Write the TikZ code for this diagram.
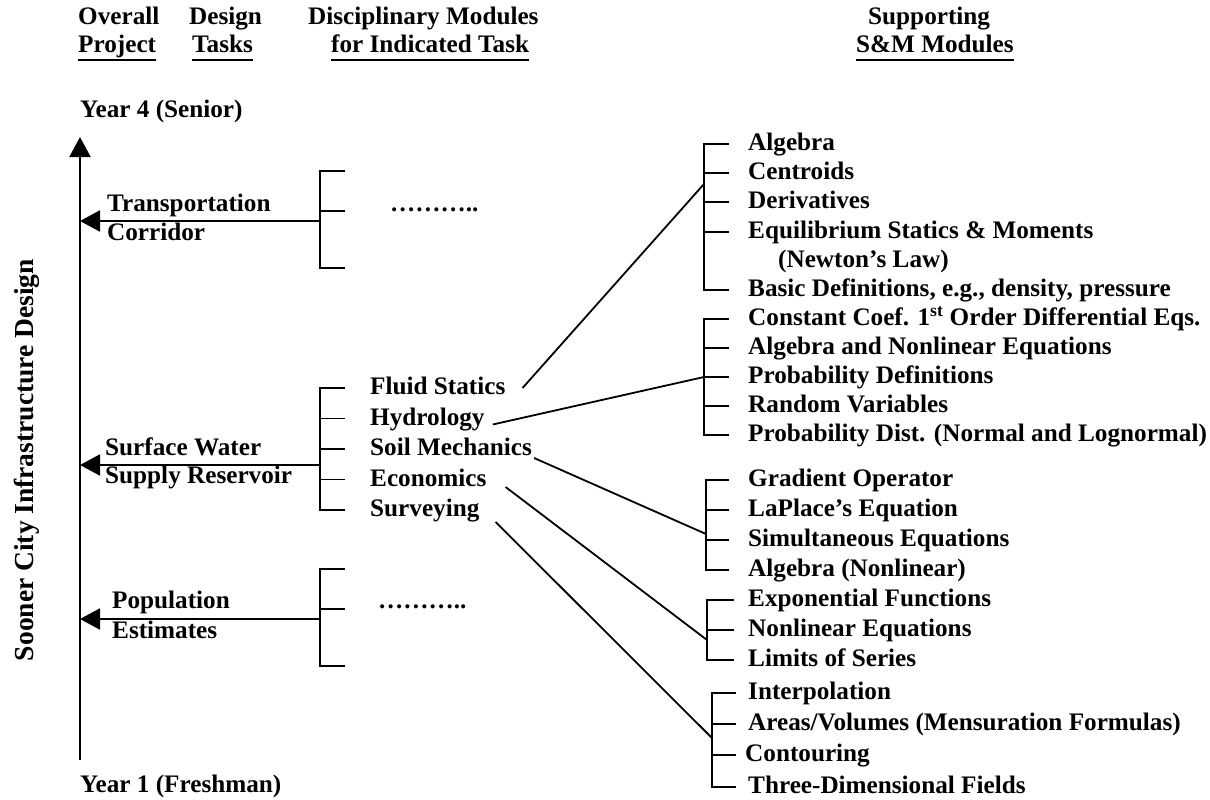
\documentclass[tikz,border=0pt]{standalone}
\usepackage{fontspec}
\setmainfont{Liberation Serif}
\usetikzlibrary{arrows.meta}

\newcommand\headfont{\fontsize{25.2}{30}\selectfont\bfseries}
\newcommand\taskfont{\fontsize{25.2}{30}\selectfont\bfseries}
\newcommand\sidefont{\fontsize{27.5}{32}\selectfont\bfseries}

\tikzset{
  head/.style={font=\headfont, inner sep=0pt, anchor=base west},
  uhead/.style={head, text depth=7pt},
  task/.style={font=\taskfont, inner sep=0pt, anchor=base west},
  module/.style={font=\taskfont, inner sep=0pt, anchor=west, text height=18pt, text depth=5pt},
  brk/.style={line width=1.8pt, line cap=rect},
  tickln/.style={brk, shorten >=#1},
  tickln/.default=20pt,
  link/.style={line width=1.8pt},
  arr/.style={line width=2pt, -{Triangle[length=20pt,width=21pt]}}
}

\begin{document}
\begin{tikzpicture}[x=1pt,y=-1pt]
  \useasboundingbox (0,0) rectangle (1210,800);

  % column heads
  \node[head]  (over) at (78,25)  {Overall};
  \node[uhead] (proj) at (78,53)  {Project};
  \node[head]  (des)  at (189,25) {Design};
  \node[uhead] (tsk)  at (192,53) {Tasks};
  \node[head]  (disc) at (308,25) {Disciplinary Modules};
  \node[uhead] (ind)  at (331,53) {for Indicated Task};
  \node[head]  (supp) at (868,25) {Supporting};
  \node[uhead] (sm)   at (856,53) {S\&M Modules};
  \draw[line width=1.6pt] (proj.south west) -- (proj.south east);
  \draw[line width=1.6pt] (tsk.south west) -- (tsk.south east);
  \draw[line width=1.6pt] (ind.south west) -- (ind.south east);
  \draw[line width=1.6pt] (sm.south west) -- (sm.south east);

  % time axis
  \node[head] (yr4) at (80,117) {Year 4 (Senior)};
  \node[head] (yr1) at (80,792) {Year 1 (Freshman)};
  \node[font=\sidefont, inner sep=0pt, rotate=90, anchor=base] (city) at (33,460) {Sooner City Infrastructure Design};
  \coordinate (ax0) at (80,760);
  \coordinate (ax1) at (80,137);
  \draw[arr] (ax0) -- (ax1);

  % design tasks
  \node[task] (trans) at (107,211) {Transportation};
  \node[task] (corr)  at (107,240) {Corridor};
  \node[task] (surf)  at (105,455) {Surface Water};
  \node[task] (resv)  at (105,483) {Supply Reservoir};
  \node[task] (pop)   at (112,608) {Population};
  \node[task] (est)   at (112,638) {Estimates};

  % transportation corridor
  \coordinate (tc) at (320,221);
  \draw[brk] (344,171) -| (320,268) -- (344,268);
  \draw[brk] (320,211) -- (344,211);
  \node[task] (dots1) at (390,211) {………..};
  \draw[arr] (tc) -- (tc -| ax0);

  % population estimates
  \coordinate (pc) at (320,619);
  \draw[brk] (344,569) -| (320,666) -- (344,666);
  \draw[brk] (320,609) -- (344,609);
  \node[task] (dots2) at (378,608) {………..};
  \draw[arr] (pc) -- (pc -| ax0);

  % surface water supply reservoir
  \node[module] (fs)   at (370,388)   {Fluid Statics};
  \node[module] (hyd)  at (370,418.5) {Hydrology};
  \node[module] (soil) at (370,449)   {Soil Mechanics};
  \node[module] (eco)  at (370,479.5) {Economics};
  \node[module] (sur)  at (370,510)   {Surveying};
  \coordinate (sc) at (320,465);
  \draw[brk] (fs.west -| sc) -- (sur.west -| sc);
  \draw[tickln=26pt] (fs.west -| sc) -- (fs.west);
  \draw[tickln=26pt] (hyd.west -| sc) -- (hyd.west);
  \draw[tickln=26pt] (soil.west -| sc) -- (soil.west);
  \draw[tickln=26pt] (eco.west -| sc) -- (eco.west);
  \draw[tickln=26pt] (sur.west -| sc) -- (sur.west);
  \draw[arr] (sc) -- (sc -| ax0);

  % supporting S&M modules
  \node[module] (alg)    at (748,144) {Algebra};
  \node[module] (cen)    at (748,173) {Centroids};
  \node[module] (der)    at (748,202) {Derivatives};
  \node[module] (equ)    at (748,232) {Equilibrium Statics \& Moments};
  \node[module] (newt)   at (778,261) {(Newton's Law)};
  \node[module] (bas)    at (748,290) {Basic Definitions, e.g., density, pressure};
  \node[module] (coef)   at (748,319) {Constant Coef. 1\textsuperscript{st} Order Differential Eqs.};
  \node[module] (anl)    at (748,348) {Algebra and Nonlinear Equations};
  \node[module] (pdef)   at (748,377) {Probability Definitions};
  \node[module] (rv)     at (748,406) {Random Variables};
  \node[module] (pdist)  at (748,435) {Probability Dist. (Normal and Lognormal)};
  \node[module] (grad)   at (748,480) {Gradient Operator};
  \node[module] (lap)    at (748,510) {LaPlace's Equation};
  \node[module] (sim)    at (748,540) {Simultaneous Equations};
  \node[module] (alnl)   at (748,570) {Algebra (Nonlinear)};
  \node[module] (expf)   at (748,600) {Exponential Functions};
  \node[module] (nleq)   at (748,630) {Nonlinear Equations};
  \node[module] (lim)    at (748,660) {Limits of Series};
  \node[module] (interp) at (748,693) {Interpolation};
  \node[module] (area)   at (748,724) {Areas/Volumes (Mensuration Formulas)};
  \node[module] (cont)   at (745,755) {Contouring};
  \node[module] (three)  at (748,787) {Three-Dimensional Fields};

  \coordinate (g1) at (704,0);
  \coordinate (g2) at (704,0);
  \coordinate (g3) at (706,0);
  \coordinate (g4) at (707,0);
  \coordinate (g5) at (712,0);

  \draw[brk] (alg.west -| g1) -- (bas.west -| g1);
  \draw[tickln] (alg.west -| g1) -- (alg.west);
  \draw[tickln] (cen.west -| g1) -- (cen.west);
  \draw[tickln] (der.west -| g1) -- (der.west);
  \draw[tickln] (equ.west -| g1) -- (equ.west);
  \draw[tickln] (bas.west -| g1) -- (bas.west);

  \draw[brk] (coef.west -| g2) -- (pdist.west -| g2);
  \draw[tickln] (coef.west -| g2) -- (coef.west);
  \draw[tickln] (anl.west -| g2) -- (anl.west);
  \draw[tickln] (pdef.west -| g2) -- (pdef.west);
  \draw[tickln] (rv.west -| g2) -- (rv.west);
  \draw[tickln] (pdist.west -| g2) -- (pdist.west);

  \draw[brk] (grad.west -| g3) -- (alnl.west -| g3);
  \draw[tickln] (grad.west -| g3) -- (grad.west);
  \draw[tickln] (lap.west -| g3) -- (lap.west);
  \draw[tickln] (sim.west -| g3) -- (sim.west);
  \draw[tickln] (alnl.west -| g3) -- (alnl.west);

  \draw[brk] (expf.west -| g4) -- (lim.west -| g4);
  \draw[tickln=15pt] (expf.west -| g4) -- (expf.west);
  \draw[tickln=15pt] (nleq.west -| g4) -- (nleq.west);
  \draw[tickln=15pt] (lim.west -| g4) -- (lim.west);

  \draw[brk] (interp.west -| g5) -- (three.west -| g5);
  \draw[tickln=13pt] (interp.west -| g5) -- (interp.west);
  \draw[tickln=13pt] (area.west -| g5) -- (area.west);
  \draw[tickln=10pt] (cont.west -| g5) -- (cont.west);
  \draw[tickln=13pt] (three.west -| g5) -- (three.west);

  % links to the S&M modules
  \coordinate (c1) at (704,184);
  \coordinate (c2) at (704,377);
  \coordinate (c3) at (706,534);
  \coordinate (c4) at (707,640);
  \coordinate (c5) at (712,738);
  \draw[link] ([xshift=17pt]fs.east) -- (c1);
  \draw[link] ([xshift=8pt,yshift=-6pt]hyd.east) -- (c2);
  \draw[link] ([xshift=2pt,yshift=-9pt]soil.east) -- (c3);
  \draw[link] ([xshift=19pt,yshift=-7.5pt]eco.east) -- (c4);
  \draw[link] ([xshift=16pt,yshift=-12pt]sur.east) -- (c5);
\end{tikzpicture}
\end{document}
